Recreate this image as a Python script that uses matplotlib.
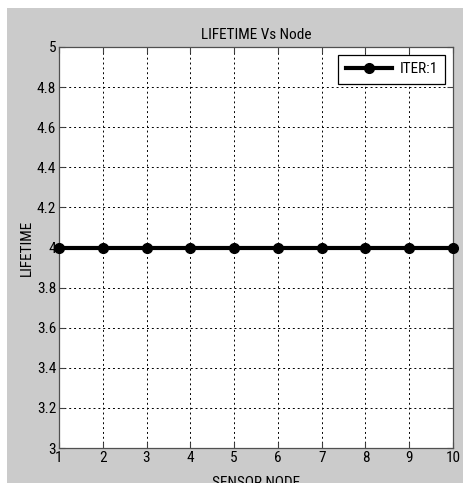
import matplotlib.pyplot as plt
from matplotlib.patches import Rectangle

nodes = [1, 2, 3, 4, 5, 6, 7, 8, 9, 10]
lifetime = [4, 4, 4, 4, 4, 4, 4, 4, 4, 4]
yticks = [3, 3.2, 3.4, 3.6, 3.8, 4, 4.2, 4.4, 4.6, 4.8, 5]
ytick_labels = ["3", "3.2", "3.4", "3.6", "3.8", "4", "4.2", "4.4", "4.6", "4.8", "5"]

plt.rcParams['font.family'] = ['Roboto Condensed', 'Liberation Sans', 'DejaVu Sans']

fig = plt.figure(figsize=(4.63, 4.83), dpi=100)
fig.patch.set_facecolor('white')
# grey MATLAB figure background, thin white margin top/left
fig.patches.append(Rectangle((7 / 463, 0), 1, 1 - 8 / 483, transform=fig.transFigure,
                             facecolor='#cbcbcb', edgecolor='none', zorder=-5))

ax = fig.add_axes([59 / 463, 35 / 483, 394 / 463, 401 / 483])
ax.set_facecolor('white')

ax.plot(nodes, lifetime, color='black', linewidth=3, marker='o', markersize=7,
        markerfacecolor='black', markeredgecolor='black', label='ITER:1', clip_on=False, zorder=3)

ax.set_xlim(1, 10)
ax.set_ylim(3, 5)
ax.set_xticks(nodes)
ax.set_yticks(yticks)
ax.set_yticklabels(ytick_labels)
ax.tick_params(direction='in', length=4, width=0.8, colors='#404040', labelcolor='black',
               labelsize=11, top=True, right=True, pad=2)
for s in ax.spines.values():
    s.set_color('#505050')
    s.set_linewidth(0.9)

ax.grid(True, color='black', linestyle=(0, (2, 3)), linewidth=0.7)

ax.set_title('LIFETIME Vs Node', fontsize=11, pad=6)
ax.set_xlabel('SENSOR NODE', fontsize=11, labelpad=8)
ax.set_ylabel('LIFETIME', fontsize=11, labelpad=2)

leg = ax.legend(loc='upper right', fontsize=11, frameon=True, fancybox=False,
                borderaxespad=0.5, handlelength=3, handletextpad=0.5, borderpad=0.5)
leg.get_frame().set_edgecolor('black')
leg.get_frame().set_linewidth(0.9)
leg.get_frame().set_alpha(1)

fig.savefig('out.png', dpi=100, facecolor=fig.get_facecolor())
